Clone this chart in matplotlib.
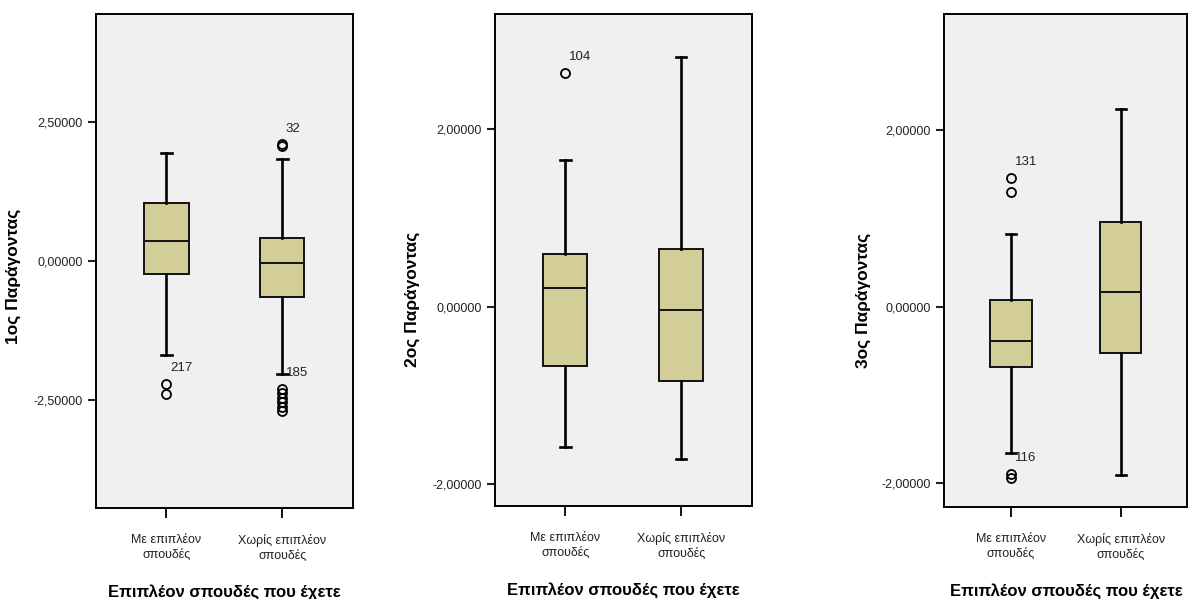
import matplotlib

matplotlib.use("Agg")
import matplotlib.pyplot as plt
from matplotlib.ticker import FuncFormatter

plt.rcParams["font.family"] = ["Liberation Sans", "DejaVu Sans"]

BOX_FACE, PANEL_BG = "#d3ce98", "#f0f0f0"

CATEGORIES = ["Με επιπλέον\nσπουδές", "Χωρίς επιπλέον\nσπουδές"]
XLABEL = "Επιπλέον σπουδές που έχετε"
YLABELS = ["1ος Παράγοντας", "2ος Παράγοντας", "3ος Παράγοντας"]

# box statistics, one list per panel, [Με, Χωρίς]
F1_Q1 = [-0.24, -0.65]
F1_MED = [0.35, -0.04]
F1_Q3 = [1.04, 0.42]
F1_LO = [-1.68, -2.02]
F1_HI = [1.93, 1.83]
F1_FLIERS = [[-2.21, -2.38], [2.07, 2.09, -2.29, -2.37, -2.45, -2.53, -2.61, -2.69]]

F2_Q1 = [-0.67, -0.84]
F2_MED = [0.21, -0.04]
F2_Q3 = [0.60, 0.65]
F2_LO = [-1.58, -1.72]
F2_HI = [1.66, 2.81]
F2_FLIERS = [[2.63], []]

F3_Q1 = [-0.68, -0.52]
F3_MED = [-0.385, 0.17]
F3_Q3 = [0.07, 0.96]
F3_LO = [-1.66, -1.90]
F3_HI = [0.82, 2.24]
F3_FLIERS = [[1.45, 1.30, -1.89, -1.94], []]

# outlier case labels: (box index, value the label sits over, text)
F1_CASES = [(0, -2.21, "217"), (1, 2.09, "32"), (1, -2.29, "185")]
F2_CASES = [(0, 2.63, "104")]
F3_CASES = [(0, 1.45, "131"), (0, -1.89, "116")]

F1_TICKS = [-2.5, 0.0, 2.5]
F2_TICKS = [-2.0, 0.0, 2.0]
F3_TICKS = [-2.0, 0.0, 2.0]

F1_YLIM = (-4.43, 4.43)
F2_YLIM = (-2.245, 3.30)
F3_YLIM = (-2.27, 3.31)

PANELS = [
    (F1_Q1, F1_MED, F1_Q3, F1_LO, F1_HI, F1_FLIERS, F1_CASES, F1_TICKS, F1_YLIM),
    (F2_Q1, F2_MED, F2_Q3, F2_LO, F2_HI, F2_FLIERS, F2_CASES, F2_TICKS, F2_YLIM),
    (F3_Q1, F3_MED, F3_Q3, F3_LO, F3_HI, F3_FLIERS, F3_CASES, F3_TICKS, F3_YLIM),
]
# axes rectangles in figure fractions
RECTS = [
    [0.0808, 0.1519, 0.2163, 0.8247],
    [0.4167, 0.1553, 0.2160, 0.8213],
    [0.7949, 0.1530, 0.2045, 0.8236],
]
YLABEL_POS = [(-0.29, 0.47), (-0.292, 0.42), (-0.30, 0.42)]


def greek_num(v, _pos):
    return f"{v:.5f}".replace(".", ",")


def draw_panel(ax, panel, ylabel, ylab_pos):
    q1, med, q3, lo, hi, fliers, cases, ticks, ylim = panel
    stats = [
        {"q1": q1[i], "med": med[i], "q3": q3[i], "whislo": lo[i],
         "whishi": hi[i], "fliers": fliers[i]}
        for i in range(2)
    ]
    ax.set_facecolor(PANEL_BG)
    ax.bxp(stats, positions=[1, 2], widths=0.38, capwidths=0.09, patch_artist=True,
           showfliers=True,
           boxprops=dict(facecolor=BOX_FACE, edgecolor="#111111", lw=1.4),
           medianprops=dict(color="#111111", lw=1.4),
           whiskerprops=dict(color="black", lw=1.9),
           capprops=dict(color="black", lw=1.9),
           flierprops=dict(marker="o", mfc="none", mec="black", ms=6.5, mew=1.3))
    for i, v, txt in cases:
        ax.annotate(txt, (i + 1, v), xytext=(2.5, 11.5), textcoords="offset points",
                    ha="left", va="center", fontsize=9.5, color="#222222")

    ax.set_xlim(1 - 0.608, 2 + 0.608)
    ax.set_ylim(*ylim)
    ax.set_yticks(ticks)
    ax.yaxis.set_major_formatter(FuncFormatter(greek_num))
    ax.set_xticks([1, 2])
    ax.set_xticklabels(CATEGORIES, fontsize=9, color="#222222", linespacing=1.3)
    ax.tick_params(axis="y", length=6, width=1.5, labelsize=9, colors="#222222",
                   labelcolor="#222222")
    ax.tick_params(axis="x", length=7.5, width=1.3, pad=11)
    for sp in ax.spines.values():
        sp.set_linewidth(1.4)
        sp.set_color("black")
    ax.set_ylabel(ylabel, fontsize=12.5, fontweight="bold")
    ax.yaxis.set_label_coords(*ylab_pos)
    ax.set_xlabel(XLABEL, fontsize=12, fontweight="bold", labelpad=16)


fig = plt.figure(figsize=(11.88, 5.99), dpi=100)
for rect, panel, ylabel, ylab_pos in zip(RECTS, PANELS, YLABELS, YLABEL_POS):
    ax = fig.add_axes(rect)
    draw_panel(ax, panel, ylabel, ylab_pos)

fig.savefig("out.png", dpi=100)
